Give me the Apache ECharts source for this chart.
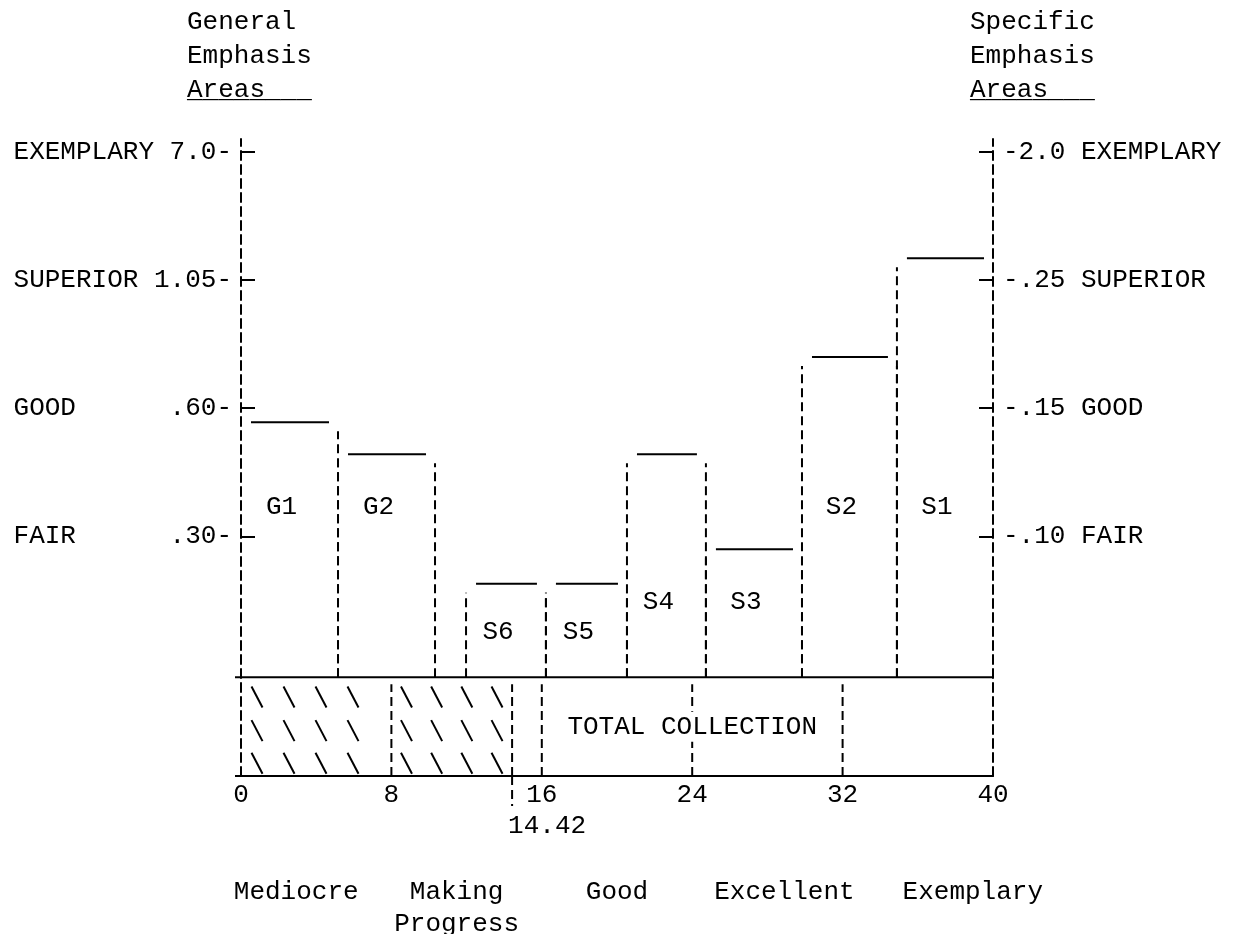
<!DOCTYPE html>
<html>
<head>
<meta charset="utf-8">
<script src="https://cdn.jsdelivr.net/npm/echarts@6/dist/echarts.min.js"></script>
<style>
  html, body { margin: 0; background: #fff; }
  #main { width: 1235px; height: 934px; }
</style>
</head>
<body>
<div id="main"></div>
<script>
"use strict";

// rating levels, same height on both scales
const levelNames = ['FAIR', 'GOOD', 'SUPERIOR', 'EXEMPLARY'];
const levelValues = [1.1, 2.1, 3.1, 4.1];
const generalTicks = ['.30', '.60', '1.05', '7.0'];
const specificTicks = ['.10', '.15', '.25', '2.0'];

// emphasis areas (x = collection scale, top = level position)
const areaNames = ['G1', 'G2', 'S6', 'S5', 'S4', 'S3', 'S2', 'S1'];
const areaStart = [0, 5.16, 11.97, 16.22, 20.53, 24.73, 29.84, 34.89];
const areaEnd = [5.16, 10.32, 16.22, 20.53, 24.73, 29.84, 34.89, 40];
const areaTop = [1.99, 1.74, 0.73, 0.73, 1.74, 1.0, 2.5, 3.27];
const areaLabelAt = [1.33, 1.33, 0.35, 0.35, 0.59, 0.59, 1.33, 1.33];

// total collection band
const collectionDividers = [8, 14.42, 16, 24, 32];
const collectionMark = 14.42;
const hatchRanges = [[0, 8], [8, 14.42]];
const collectionLabel = 'TOTAL COLLECTION';
const ratingNames = ['Mediocre', 'Making\nProgress', 'Good', 'Excellent', 'Exemplary'];

const FONT_FAMILY = '"Liberation Mono", "DejaVu Sans Mono", monospace';
const FONT = '26px ' + FONT_FAMILY;
const BAND_BOTTOM = -0.77;
const DASH = { stroke: '#000', lineWidth: 2, lineDash: [9, 5] };
// typed words sit a little off the category centres (px)
const RATING_SHIFT = [-20, -10, 0, 17, 55];

let myChart = echarts.init(document.getElementById('main'));

function levelIndex(v) {
  return levelValues.findIndex(function (l) { return Math.abs(l - v) < 1e-6; });
}

function renderArea(params, api) {
  let x0 = api.value(0), x1 = api.value(1), top = api.value(2);
  let base = api.coord([x0, 0]);
  let end = api.coord([x1, top]);
  let children = [];
  if (x0 > 0) {
    children.push({ type: 'line', shape: { x1: base[0], y1: base[1], x2: base[0], y2: end[1] + 9 }, style: DASH });
  }
  if (x1 < 40) {
    children.push({ type: 'line', shape: { x1: end[0], y1: base[1], x2: end[0], y2: end[1] + 9 }, style: DASH });
  }
  children.push({
    type: 'line',
    shape: { x1: base[0] + 10, y1: end[1], x2: end[0] - 9, y2: end[1] },
    style: { stroke: '#000', lineWidth: 2 },
  });
  let lab = api.coord([(x0 + x1) / 2, api.value(3)]);
  children.push({
    type: 'text',
    x: lab[0] - 8,
    y: lab[1],
    style: { text: areaNames[params.dataIndex], font: FONT, fill: '#000', align: 'center', verticalAlign: 'middle' },
  });
  return { type: 'group', children: children };
}

function renderDivider(params, api) {
  let x = api.value(0);
  let top = api.coord([x, 0]);
  let bottom = api.coord([x, BAND_BOTTOM]);
  let children = [];
  children.push({
    type: 'line',
    shape: { x1: top[0], y1: bottom[1], x2: top[0], y2: top[1] + 7 },
    style: DASH,
  });
  if (Math.abs(x - collectionMark) < 1e-6) {
    children.push({ type: 'line', shape: { x1: top[0], y1: bottom[1], x2: top[0], y2: bottom[1] + 30 }, style: DASH });
    children.push({
      type: 'text',
      x: top[0] - 4,
      y: bottom[1] + 50,
      style: { text: String(x), font: FONT, fill: '#000', align: 'left', verticalAlign: 'middle' },
    });
  }
  return { type: 'group', children: children };
}

function renderHatch(params, api) {
  let a = api.coord([api.value(0), 0]);
  let b = api.coord([api.value(1), BAND_BOTTOM]);
  let w = b[0] - a[0];
  let h = b[1] - a[1];
  let n = Math.max(1, Math.round(w / 34));
  let step = Math.min(32, w / n);
  let children = [];
  [0.2, 0.54, 0.87].forEach(function (r) {
    let cy = a[1] + h * r;
    for (let k = 0; k < n; k++) {
      let cx = a[0] + step * (k + 0.5);
      children.push({
        type: 'line',
        shape: { x1: cx - 5.5, y1: cy - 10.5, x2: cx + 5.5, y2: cy + 10.5 },
        style: { stroke: '#000', lineWidth: 2 },
      });
    }
  });
  return { type: 'group', children: children };
}

function renderBand(params, api) {
  let left = api.coord([api.value(0), 0]);
  let right = api.coord([api.value(1), 0]);
  let mid = api.coord([api.value(2), BAND_BOTTOM / 2]);
  let bottom = api.coord([api.value(0), BAND_BOTTOM]);
  return {
    type: 'group',
    children: [
      { type: 'line', shape: { x1: left[0] - 6, y1: left[1], x2: right[0], y2: right[1] }, style: { stroke: '#000', lineWidth: 2 } },
      { type: 'line', shape: { x1: bottom[0] - 6, y1: bottom[1], x2: bottom[0], y2: bottom[1] }, style: { stroke: '#000', lineWidth: 2 } },
      {
        type: 'text',
        x: mid[0],
        y: mid[1],
        z2: 10,
        style: {
          text: collectionLabel, font: FONT, fill: '#000', align: 'center', verticalAlign: 'middle',
          backgroundColor: '#fff', padding: [2, 0],
        },
      },
    ],
  };
}

let textStyle = { fontFamily: FONT_FAMILY, fontSize: 26, fontWeight: 'normal', color: '#000' };

let ratingRich = {};
RATING_SHIFT.forEach(function (s, i) {
  ratingRich['r' + i] = Object.assign({
    lineHeight: 32,
    padding: s > 0 ? [0, 0, 0, 2 * s] : [0, -2 * s, 0, 0],
  }, textStyle);
});

let option = {
  backgroundColor: '#fff',
  animation: false,
  title: [
    { text: 'General\nEmphasis\nAreas', left: 187, top: 5, padding: 0, textStyle: Object.assign({ lineHeight: 34 }, textStyle) },
    { text: '________', left: 187, top: 73, padding: 0, textStyle: Object.assign({ lineHeight: 34 }, textStyle) },
    { text: 'Specific\nEmphasis\nAreas', left: 970, top: 5, padding: 0, textStyle: Object.assign({ lineHeight: 34 }, textStyle) },
    { text: '________', left: 970, top: 73, padding: 0, textStyle: Object.assign({ lineHeight: 34 }, textStyle) },
  ],
  grid: {
    left: 241,
    right: 242,
    top: 139,
    bottom: 158,
    outerBoundsMode: 'none',
    containLabel: false,
  },
  xAxis: [
    {
      type: 'value',
      min: 0,
      max: 40,
      interval: 8,
      axisLine: { onZero: false, lineStyle: { color: '#000', width: 2 } },
      axisTick: { show: false },
      splitLine: { show: false },
      axisLabel: Object.assign({ margin: 6 }, textStyle),
    },
    {
      type: 'category',
      position: 'bottom',
      offset: 100,
      data: ratingNames,
      axisLine: { show: false, onZero: false },
      axisTick: { show: false },
      axisLabel: Object.assign({
        margin: 0,
        interval: 0,
        lineHeight: 32,
        formatter: function (v, i) {
          return v.split('\n').map(function (line) { return '{r' + i + '|' + line + '}'; }).join('\n');
        },
        rich: ratingRich,
      }, textStyle),
    },
  ],
  yAxis: [
    {
      type: 'value',
      position: 'left',
      min: BAND_BOTTOM,
      max: 4.2,
      splitLine: { show: false },
      axisLine: { show: true, lineStyle: { color: '#000', width: 2, type: [9, 5] } },
      axisTick: { show: true, inside: true, length: 14, customValues: levelValues, lineStyle: { color: '#000', width: 2 } },
      axisLabel: Object.assign({
        margin: 9,
        customValues: levelValues,
        formatter: function (v) {
          let i = levelIndex(v);
          if (i < 0) return '';
          let name = levelNames[i], num = generalTicks[i];
          return name + ' '.repeat(Math.max(1, 13 - name.length - num.length)) + num + '-';
        },
      }, textStyle),
    },
    {
      type: 'value',
      position: 'right',
      min: BAND_BOTTOM,
      max: 4.2,
      splitLine: { show: false },
      axisLine: { show: true, lineStyle: { color: '#000', width: 2, type: [9, 5] } },
      axisTick: { show: true, inside: true, length: 14, customValues: levelValues, lineStyle: { color: '#000', width: 2 } },
      axisLabel: Object.assign({
        margin: 10,
        customValues: levelValues,
        formatter: function (v) {
          let i = levelIndex(v);
          if (i < 0) return '';
          return '-' + specificTicks[i] + ' ' + levelNames[i];
        },
      }, textStyle),
    },
  ],
  series: [
    {
      name: 'areas',
      type: 'custom',
      clip: false,
      renderItem: renderArea,
      data: areaNames.map(function (n, i) { return [areaStart[i], areaEnd[i], areaTop[i], areaLabelAt[i]]; }),
    },
    {
      name: 'band',
      type: 'custom',
      clip: false,
      renderItem: renderBand,
      data: [[0, 40, 24]],
    },
    {
      name: 'hatch',
      type: 'custom',
      clip: false,
      renderItem: renderHatch,
      data: hatchRanges,
    },
    {
      name: 'dividers',
      type: 'custom',
      clip: false,
      z: 1,
      renderItem: renderDivider,
      data: collectionDividers.map(function (x) { return [x]; }),
    },
  ],
};

myChart.setOption(option);
</script>
</body>
</html>
